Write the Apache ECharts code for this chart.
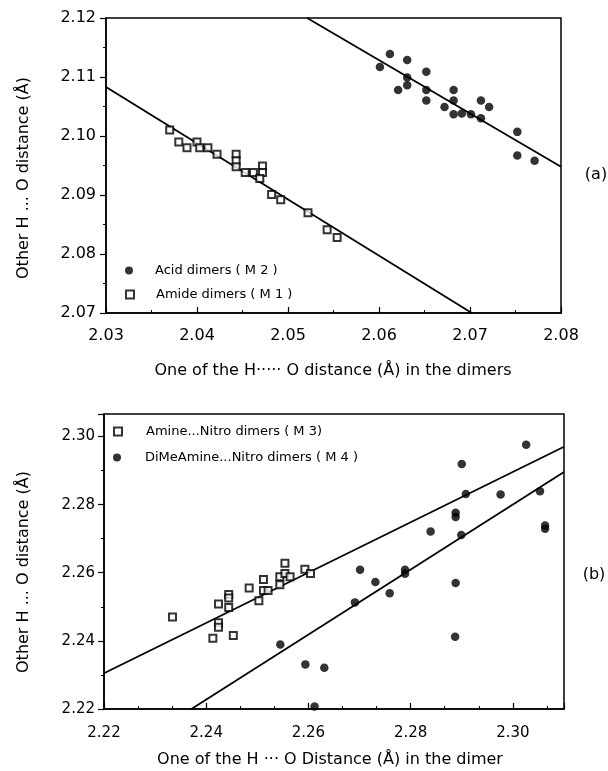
<!DOCTYPE html>
<html>
<head>
<meta charset="utf-8">
<script src="https://cdn.jsdelivr.net/npm/echarts@6/dist/echarts.min.js"></script>
<style>
html,body{margin:0;padding:0;background:#fff;}
#chart{width:608px;height:771px;}
</style>
</head>
<body>
<div id="chart"></div>
<script>
// ---------- Panel (a) data ----------
const acidDimersM2 = [
  [2.0601, 2.1117], [2.0612, 2.1139], [2.0631, 2.1129], [2.0631, 2.1099],
  [2.0631, 2.1086], [2.0621, 2.1078], [2.0652, 2.1109], [2.0652, 2.1078],
  [2.0652, 2.1060], [2.0672, 2.1049], [2.0682, 2.1078], [2.0682, 2.1060],
  [2.0682, 2.1037], [2.0691, 2.1038], [2.0701, 2.1037], [2.0712, 2.1060],
  [2.0712, 2.1030], [2.0721, 2.1049], [2.0752, 2.1007], [2.0752, 2.0967],
  [2.0771, 2.0958]
];
const amideDimersM1 = [
  [2.0370, 2.1010], [2.0380, 2.0990], [2.0389, 2.0980], [2.0400, 2.0990],
  [2.0403, 2.0980], [2.0412, 2.0980], [2.0422, 2.0969], [2.0443, 2.0969],
  [2.0443, 2.0958], [2.0443, 2.0948], [2.0453, 2.0938], [2.0462, 2.0938],
  [2.0472, 2.0949], [2.0472, 2.0938], [2.0469, 2.0928], [2.0482, 2.0901],
  [2.0492, 2.0892], [2.0522, 2.0870], [2.0543, 2.0841], [2.0554, 2.0828]
];
const fitLineM2 = [[2.0521, 2.1200], [2.0800, 2.0948]];
const fitLineM1 = [[2.0300, 2.1083], [2.0702, 2.0700]];
const ticksAX = [2.03, 2.04, 2.05, 2.06, 2.07, 2.08];
const ticksAY = [2.07, 2.08, 2.09, 2.10, 2.11, 2.12];

// ---------- Panel (b) data ----------
const amineNitroM3 = [
  [2.2334, 2.2470], [2.2424, 2.2508], [2.2444, 2.2536], [2.2444, 2.2526],
  [2.2444, 2.2498], [2.2424, 2.2453], [2.2424, 2.2440], [2.2413, 2.2408],
  [2.2453, 2.2416], [2.2484, 2.2555], [2.2503, 2.2518], [2.2512, 2.2580],
  [2.2512, 2.2548], [2.2521, 2.2548], [2.2544, 2.2588], [2.2544, 2.2565],
  [2.2554, 2.2628], [2.2554, 2.2598], [2.2564, 2.2588], [2.2593, 2.2610],
  [2.2604, 2.2598]
];
const diMeAmineNitroM4 = [
  [2.3026, 2.2976], [2.2900, 2.2919], [2.2908, 2.2831], [2.2976, 2.2830],
  [2.3053, 2.2839], [2.2888, 2.2776], [2.2888, 2.2764], [2.3063, 2.2739],
  [2.3063, 2.2729], [2.2839, 2.2721], [2.2899, 2.2711], [2.2701, 2.2609],
  [2.2789, 2.2609], [2.2789, 2.2597], [2.2731, 2.2573], [2.2888, 2.2570],
  [2.2759, 2.2540], [2.2691, 2.2513], [2.2887, 2.2412], [2.2545, 2.2389],
  [2.2594, 2.2331], [2.2631, 2.2321], [2.2612, 2.2207]
];
const fitLineM3 = [[2.2200, 2.2305], [2.3100, 2.2970]];
const fitLineM4 = [[2.2371, 2.2200], [2.3100, 2.2896]];
const ticksBX = [2.22, 2.24, 2.26, 2.28, 2.30];
const ticksBY = [2.22, 2.24, 2.26, 2.28, 2.30];
const rangeBX = [2.22, 2.31];
const rangeBY = [2.22, 2.3066];

// ---------- Labels ----------
const nameAcid = 'Acid dimers ( M 2 )';
const nameAmide = 'Amide dimers ( M 1 )';
const nameAmine = 'Amine...Nitro dimers ( M 3)';
const nameDiMe = 'DiMeAmine...Nitro dimers ( M 4 )';

const FONT = '"DejaVu Sans", sans-serif';
const BLACK = '#000';

function valAxis(gridIndex, ticks, min, max, isX, opts) {
  const interval = +(ticks[1] - ticks[0]).toFixed(4);
  return Object.assign({
    type: 'value', gridIndex: gridIndex, min: min, max: max, interval: interval,
    axisLine: {show: true, onZero: false, lineStyle: {color: BLACK, width: 1.5}},
    axisTick: {show: true, inside: isX, length: 6, lineStyle: {color: BLACK, width: 1.2}},
    minorTick: {show: true, splitNumber: 2, length: 3, lineStyle: {color: BLACK, width: 1}},
    splitLine: {show: false}
  }, opts || {});
}

function scatter(name, data, xi, symbol, size) {
  const filled = symbol === 'circle';
  return {
    type: 'scatter', name: name, data: data, xAxisIndex: xi, yAxisIndex: xi,
    symbol: symbol, symbolSize: size, z: 5,
    itemStyle: filled ? {color: BLACK} : {color: BLACK, borderColor: BLACK, borderWidth: 1.4},
    emphasis: {disabled: true}
  };
}
function fitLine(data, xi) {
  return {
    type: 'line', data: data, xAxisIndex: xi, yAxisIndex: xi, symbol: 'none',
    lineStyle: {color: BLACK, width: 1.8}, z: 3, silent: true, animation: false
  };
}
function oneLegend(name, left, top, pad) {
  return {
    data: [{name: name}], left: left, top: top, orient: 'vertical', padding: 0,
    itemWidth: 8, itemHeight: 8, selectedMode: false,
    textStyle: {color: BLACK, fontFamily: FONT, fontSize: 13, padding: [0, 0, 0, pad]}
  };
}
function lbl(size, margin, hideMax) {
  return {color: BLACK, fontFamily: FONT, fontSize: size, margin: margin,
          showMaxLabel: !hideMax, formatter: v => (+v).toFixed(2)};
}

const chart = echarts.init(document.getElementById('chart'), null, {renderer: 'canvas'});
chart.setOption({
  animation: false,
  backgroundColor: '#fff',
  grid: [
    {left: 106, top: 18, width: 455, height: 295, show: true, borderColor: BLACK, borderWidth: 1.5},
    {left: 104, top: 414, width: 460, height: 295, show: true, borderColor: BLACK, borderWidth: 1.5}
  ],
  xAxis: [
    valAxis(0, ticksAX, ticksAX[0], ticksAX[ticksAX.length - 1], true, {axisLabel: lbl(16, 15, false)}),
    valAxis(1, ticksBX, rangeBX[0], rangeBX[1], true, {axisLabel: lbl(15, 17, true),
       minorTick: {show: true, splitNumber: 3, length: 3, lineStyle: {color: BLACK, width: 1}}})
  ],
  yAxis: [
    valAxis(0, ticksAY, ticksAY[0], ticksAY[ticksAY.length - 1], false, {axisLabel: lbl(16, 10, false)}),
    valAxis(1, ticksBY, rangeBY[0], rangeBY[1], false, {axisLabel: lbl(15, 9, true)})
  ],
  legend: [
    oneLegend(nameAcid, 125, 264, 17),
    oneLegend(nameAmide, 125, 288, 17),
    oneLegend(nameAmine, 113, 425, 19),
    oneLegend(nameDiMe, 113, 451, 19)
  ],
  series: [
    fitLine(fitLineM2, 0),
    fitLine(fitLineM1, 0),
    scatter(nameAcid, acidDimersM2, 0, 'circle', 8.5),
    scatter(nameAmide, amideDimersM1, 0, 'emptyRect', 7),
    fitLine(fitLineM3, 1),
    fitLine(fitLineM4, 1),
    scatter(nameAmine, amineNitroM3, 1, 'emptyRect', 7),
    scatter(nameDiMe, diMeAmineNitroM4, 1, 'circle', 8.5)
  ],
  graphic: [
    {type: 'text', x: 24, y: 178, rotation: Math.PI / 2,
     style: {text: 'Other H ... O distance (Å)', fill: BLACK, font: '16px ' + FONT, textAlign: 'center', textVerticalAlign: 'middle'}},
    {type: 'text', x: 333, y: 371,
     style: {text: 'One of the H····· O distance (Å) in the dimers', fill: BLACK, font: '16px ' + FONT, textAlign: 'center', textVerticalAlign: 'middle'}},
    {type: 'text', x: 596, y: 175,
     style: {text: '(a)', fill: BLACK, font: '16px ' + FONT, textAlign: 'center', textVerticalAlign: 'middle'}},
    {type: 'text', x: 24, y: 572, rotation: Math.PI / 2,
     style: {text: 'Other H ... O distance (Å)', fill: BLACK, font: '16px ' + FONT, textAlign: 'center', textVerticalAlign: 'middle'}},
    {type: 'text', x: 330, y: 760,
     style: {text: 'One of the H ··· O Distance (Å) in the dimer', fill: BLACK, font: '16px ' + FONT, textAlign: 'center', textVerticalAlign: 'middle'}},
    {type: 'text', x: 594, y: 575,
     style: {text: '(b)', fill: BLACK, font: '16px ' + FONT, textAlign: 'center', textVerticalAlign: 'middle'}}
  ]
});
</script>
</body>
</html>
